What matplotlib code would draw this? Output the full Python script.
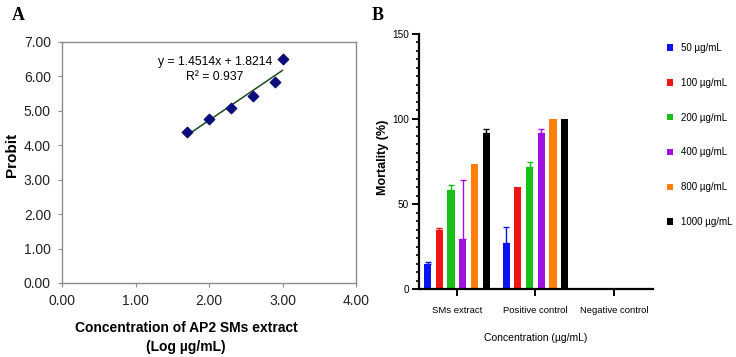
import numpy as np
import matplotlib
matplotlib.use("Agg")
import matplotlib.pyplot as plt
from matplotlib.ticker import MultipleLocator

# Panel A: probit regression
log_conc = [1.70, 2.00, 2.30, 2.60, 2.90, 3.00]
probit = [4.38, 4.75, 5.08, 5.44, 5.85, 6.51]
slope, intercept = 1.4514, 1.8214

# Panel B: mortality bars
groups = ["SMs extract", "Positive control", "Negative control"]
doses = ["50 µg/mL", "100 µg/mL", "200 µg/mL", "400 µg/mL", "800 µg/mL", "1000 µg/mL"]
mortality = [
    [14.5, 27.0, 0],
    [34.6, 60.2, 0],
    [58.0, 71.8, 0],
    [29.7, 92.0, 0],
    [73.8, 100.0, 0],
    [91.8, 100.0, 0],
]
errors = [
    [1.6, 9.3, 0],
    [1.5, 0, 0],
    [3.3, 2.8, 0],
    [34.2, 2.4, 0],
    [0, 0, 0],
    [2.1, 0, 0],
]
colors = ["#0a14f0", "#f01414", "#18c018", "#a010e0", "#ff7f0a", "#000000"]

fig = plt.figure(figsize=(7.36, 3.57), dpi=100)
W, H = 736, 357
sans = ["Liberation Sans", "DejaVu Sans"]

# ---------- panel A ----------
axA = fig.add_axes([62 / W, 1 - 283 / H, 294 / W, 241 / H])
xs = np.array([log_conc[0], log_conc[-1]])
axA.plot(xs, slope * xs + intercept, color="#1e4a1e", lw=1.1, zorder=2)
axA.scatter(log_conc, probit, marker="D", s=28, color="#0c0c7a", zorder=3)
axA.set_xlim(0, 4)
axA.set_ylim(0, 7)
axA.xaxis.set_major_locator(MultipleLocator(1))
axA.yaxis.set_major_locator(MultipleLocator(1))
axA.xaxis.set_major_formatter(lambda v, p: f"{v:.2f}")
axA.yaxis.set_major_formatter(lambda v, p: f"{v:.2f}")
for s in axA.spines.values():
    s.set_color("#8c8c8c")
    s.set_linewidth(1.0)
axA.tick_params(direction="out", length=3, width=0.8, color="#8c8c8c",
                labelsize=10, pad=5)
for lab in axA.get_xticklabels() + axA.get_yticklabels():
    lab.set_family(sans)
    lab.set_color("#222222")
axA.text(2.08, 6.42, f"y = {slope}x + {intercept}", ha="center", va="center",
         fontsize=8.8, family=sans)
axA.text(2.08, 5.98, "R² = 0.937", ha="center", va="center", fontsize=8.8, family=sans)
fig.text(12 / W, 1 - 155 / H, "Probit", rotation=90, ha="center", va="center",
         fontsize=11, fontweight="bold", family=sans)
fig.text(186 / W, 1 - 328 / H, "Concentration of AP2 SMs extract", ha="center",
         va="center", fontsize=10, fontweight="bold", family=sans)
fig.text(186 / W, 1 - 347 / H, "(Log µg/mL)", ha="center", va="center",
         fontsize=10, fontweight="bold", family=sans)
fig.text(12 / W, 1 - 15 / H, "A", ha="left", va="center", fontsize=13,
         fontweight="bold", family="Liberation Serif")

# ---------- panel B ----------
axB = fig.add_axes([419 / W, 1 - 289 / H, 234 / W, 255 / H])
x = np.arange(len(groups))
step, bw = 0.149, 0.093
for i, (vals, errs, c, lab) in enumerate(zip(mortality, errors, colors, doses)):
    pos = x + (i - 2.5) * step
    axB.bar(pos, vals, width=bw, color=c, label=lab, zorder=2)
    yerr = np.array([np.zeros(len(errs)), errs])
    has = np.array(errs) > 0
    axB.errorbar(pos[has], np.array(vals)[has], yerr=yerr[:, has], fmt="none",
                 ecolor=c, elinewidth=1.0, capsize=2.2, capthick=1.0, zorder=3)
axB.set_xlim(-0.484, 2.5)
axB.set_ylim(0, 150)
axB.set_xticks(x)
axB.set_xticklabels(groups)
axB.yaxis.set_major_locator(MultipleLocator(50))
axB.yaxis.set_minor_locator(MultipleLocator(5))
axB.spines["top"].set_visible(False)
axB.spines["right"].set_visible(False)
axB.spines["left"].set_linewidth(1.6)
axB.spines["bottom"].set_linewidth(1.6)
axB.tick_params(axis="both", which="major", length=5, width=1.4, labelsize=7.2, pad=2)
axB.tick_params(axis="y", which="minor", length=2.5, width=1.2)
axB.tick_params(axis="x", labelsize=6.8, pad=7)
for lab in axB.get_xticklabels() + axB.get_yticklabels():
    lab.set_family(sans)
axB.set_xlabel("Concentration (µg/mL)", fontsize=7.5, family=sans, labelpad=13)
fig.text(383 / W, 1 - 157 / H, "Mortality (%)", rotation=90, ha="center", va="center",
         fontsize=9, fontweight="bold", family=sans)
axB.legend(loc="upper left", bbox_to_anchor=(667 / W, 1 - 43 / H),
           bbox_transform=fig.transFigure, frameon=False,
           prop={"family": sans, "size": 7}, handlelength=0.65,
           handleheight=0.65, handletextpad=0.8, labelspacing=2.55,
           borderpad=0, borderaxespad=0)
fig.text(372 / W, 1 - 15 / H, "B", ha="left", va="center", fontsize=13,
         fontweight="bold", family="Liberation Serif")

fig.savefig("out.png", dpi=100)
